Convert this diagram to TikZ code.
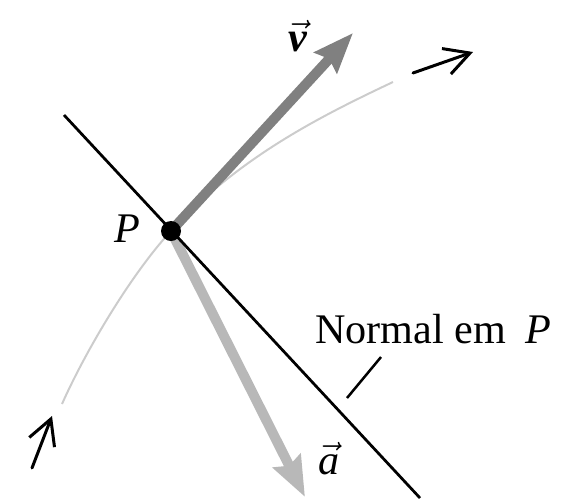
\documentclass[tikz,border=0pt]{standalone}
\usepackage{fontspec}
\setmainfont{Liberation Serif}
\usepackage{tikz}
\usetikzlibrary{arrows.meta}

\definecolor{velgray}{gray}{0.50}
\definecolor{accgray}{gray}{0.72}
\definecolor{pathgray}{gray}{0.80}

\begin{document}
\begin{tikzpicture}[x=0.02cm, y=-0.02cm,
    font=\fontsize{24}{28}\selectfont,
    vecarrow/.style={line width=0.2cm, -{Stealth[length=0.8cm, width=0.6cm, inset=0.1cm]}},
    dirarrow/.style={line width=0.06cm, line cap=round, -{Straight Barb[length=0.5cm, width=0.54cm]}}]
        \useasboundingbox (0,0) rectangle (570,498);
        % points
        \coordinate (Pc) at (171,231);
        \coordinate (vtip) at (353,33);
        \coordinate (atip) at (305,497);
        \coordinate (curvestart) at (62,404);
        \coordinate (curveend) at (393,82);
        \coordinate (normtop) at (64,115);
        \coordinate (normbot) at (420,498);
        % trajectory
        \draw[pathgray, line width=0.04cm] (curvestart) .. controls (86,350) and (132,273) .. (Pc)
              .. controls (239,157) and (321,116) .. (curveend);
        \draw[accgray, vecarrow] (Pc) -- (atip);
        \draw[line width=0.055cm] (normtop) -- (normbot);
        \draw[velgray, vecarrow] (Pc) -- (vtip);
        \node[circle, fill, inner sep=0pt, minimum size=0.4cm] (P) at (Pc) {};
        % direction of motion
        \coordinate (inA) at (32,468);
        \coordinate (inB) at (52,416);
        \coordinate (outA) at (413,73);
        \coordinate (outB) at (473,52);
        \draw[dirarrow] (inA) -- (inB);
        \draw[dirarrow] (outA) -- (outB);
        % labels
        \node (Plab) at (127,229) {\itshape P};
        \node (vlab) at (298,36) {$\vec{\hbox{\bfseries\itshape v}}$};
        \node (alab) at (329,459) {$\vec{\hbox{\itshape a}}$};
        \node[anchor=base west, inner sep=0pt] (normlab) at (315,343) {Normal em\hspace{0.2em} \itshape P};
        \coordinate (tickA) at (347,398);
        \coordinate (tickB) at (381,357);
        \draw[line width=0.05cm] (tickA) -- (tickB);
      \end{tikzpicture}
\end{document}
